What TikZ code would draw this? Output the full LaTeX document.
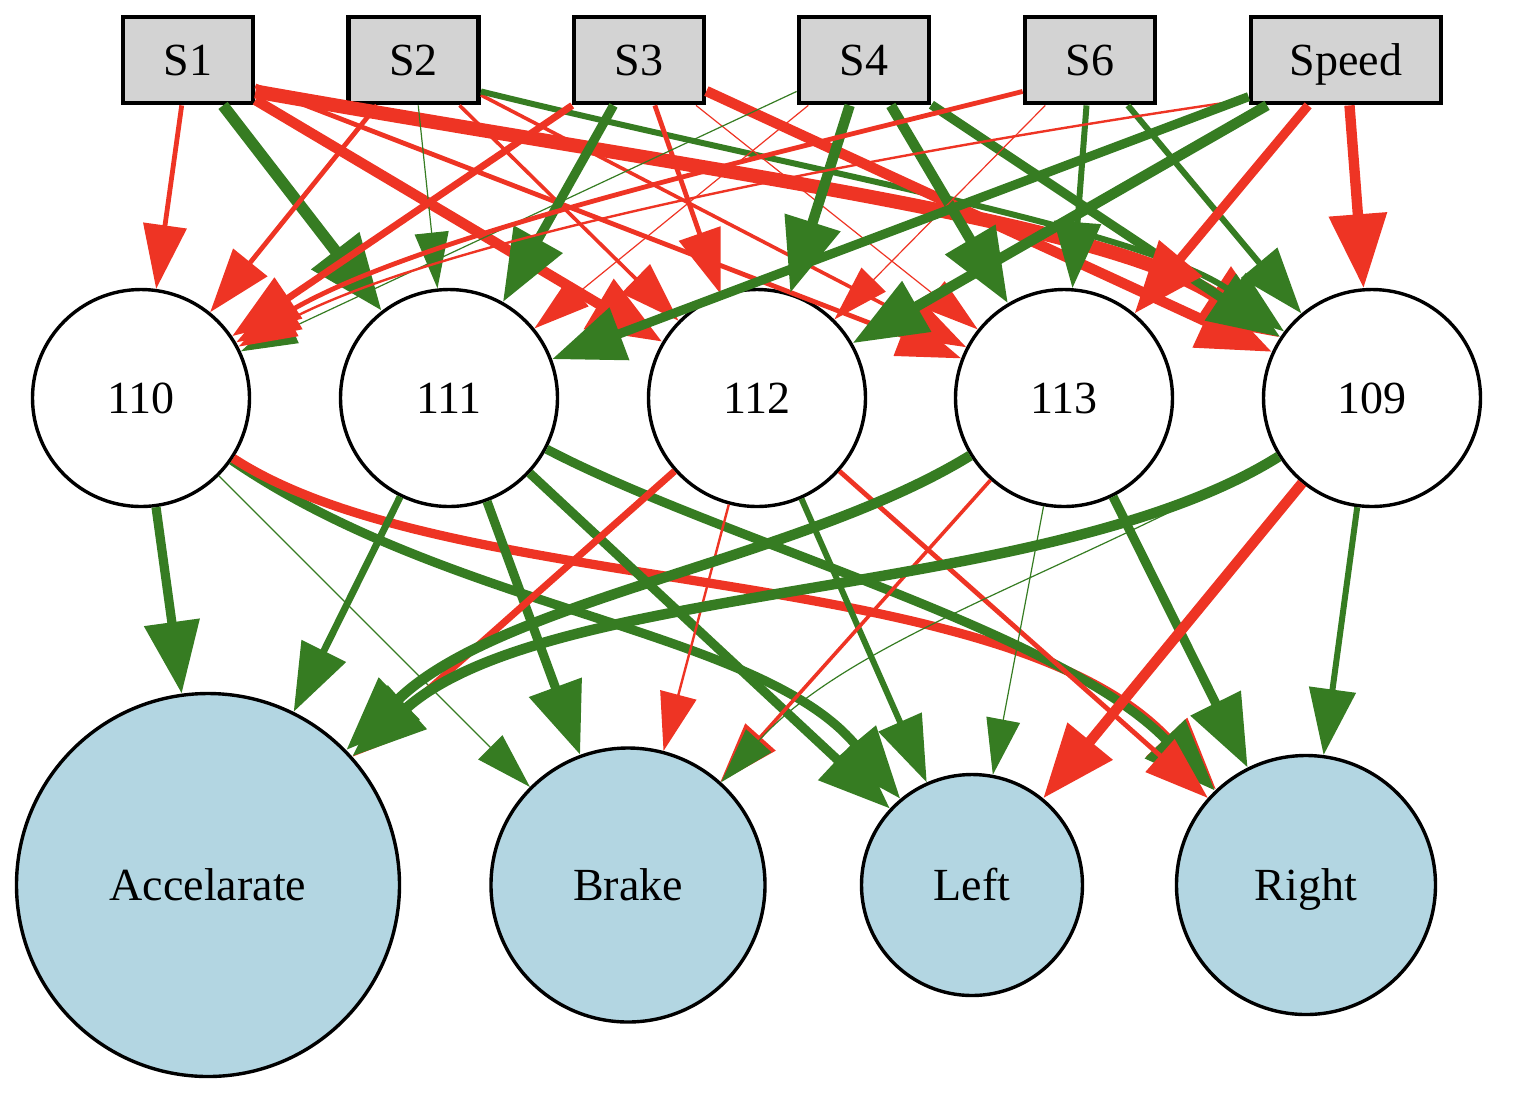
\documentclass[tikz,border=0pt]{standalone}
\usepackage{fontspec}
\setmainfont{Liberation Serif}
\usetikzlibrary{arrows.meta}
\definecolor{posc}{RGB}{54,124,34}
\definecolor{negc}{RGB}{238,52,36}
\definecolor{inbox}{RGB}{211,211,211}
\definecolor{outfill}{RGB}{179,214,226}

\begin{document}
\begin{tikzpicture}[x=0.5pt,y=-0.5pt,
  lbl/.style={font=\fontsize{23}{27}\selectfont, text height=15pt, text depth=0pt},
  inp/.style={lbl, draw=black, line width=2.4pt, fill=inbox, rectangle,
    minimum height=43pt, inner sep=0pt},
  hid/.style={lbl, draw=black, line width=1.7pt, fill=white, circle,
    minimum size=108.5pt, inner sep=0pt},
  outn/.style={lbl, draw=black, line width=1.7pt, fill=outfill, circle,
    inner sep=0pt},
  plus/.style={color=posc},
  minus/.style={color=negc},
  % edge weights: line width and matching arrow head
  e1/.style={line width=0.6pt, -{Triangle[length=28pt,width=17pt]}},
  e2/.style={line width=1.2pt, -{Triangle[length=29pt,width=18.5pt]}},
  e3/.style={line width=1.8pt, -{Triangle[length=30pt,width=20pt]}},
  e4/.style={line width=2.4pt, -{Triangle[length=32pt,width=21.5pt]}},
  e5/.style={line width=3pt,   -{Triangle[length=33pt,width=23pt]}},
  e6/.style={line width=3.5pt, -{Triangle[length=34pt,width=24pt]}},
  e8/.style={line width=4.6pt, -{Triangle[length=36pt,width=27pt]}},
  e9/.style={line width=5.2pt, -{Triangle[length=37pt,width=28pt]}},
  e10/.style={line width=5.8pt, -{Triangle[length=38pt,width=29pt]}},
  e12/.style={line width=7pt,  -{Triangle[length=40pt,width=31pt]}},
]
\useasboundingbox (0,0) rectangle (1516,1100);

% input layer
\node[inp, minimum width=65pt] (S1) at (188,60) {S1};
\node[inp, minimum width=65pt] (S2) at (413.5,60) {S2};
\node[inp, minimum width=65pt] (S3) at (639,60) {S3};
\node[inp, minimum width=65pt] (S4) at (864,60) {S4};
\node[inp, minimum width=65pt] (S6) at (1090,60) {S6};
\node[inp, minimum width=95pt] (Speed) at (1346,60) {Speed};

% hidden layer
\node[hid] (h110) at (141,398) {110};
\node[hid] (h111) at (449,398) {111};
\node[hid] (h112) at (757,398) {112};
\node[hid] (h113) at (1064,398) {113};
\node[hid] (h109) at (1372,398) {109};

% output layer
\node[outn, minimum size=191.5pt] (acc) at (208,885) {Accelarate};
\node[outn, minimum size=137pt] (brake) at (628,885) {Brake};
\node[outn, minimum size=110.5pt] (left) at (972,885) {Left};
\node[outn, minimum size=129.5pt] (right) at (1306,885) {Right};

% inputs to hidden
\draw[minus,e4]  (S1) -- (h110);
\draw[plus,e10]  (S1) -- (h111);
\draw[minus,e9]  (S1) -- (h112);
\draw[minus,e4]  (S1) -- (h113);
\draw[minus,e12] (S1.-25) .. controls (700,170) and (1100,220) .. (h109);

\draw[minus,e4]  (S2) -- (h110);
\draw[plus,e1]   (S2) -- (h111);
\draw[minus,e3]  (S2) -- (h112);
\draw[minus,e3]  (S2) -- (h113);
\draw[plus,e5]   (S2.-25) .. controls (800,170) and (1150,230) .. (h109);

\draw[minus,e6]  (S3) -- (h110);
\draw[plus,e8]   (S3) -- (h111);
\draw[minus,e4]  (S3) -- (h112);
\draw[minus,e1]  (S3) -- (h113);
\draw[minus,e9]  (S3) -- (h109);

\draw[plus,e1]   (S4) -- (h110);
\draw[minus,e1]  (S4) -- (h111);
\draw[plus,e9]   (S4) -- (h112);
\draw[plus,e9]   (S4) -- (h113);
\draw[plus,e8]   (S4) -- (h109);

\draw[minus,e4]  (S6.205) .. controls (750,160) and (420,235) .. (h110);
\draw[minus,e1]  (S6) -- (h112);
\draw[plus,e5]   (S6) -- (h113);
\draw[plus,e5]   (S6) -- (h109);

\draw[minus,e2]  (Speed.202) .. controls (900,150) and (450,235) .. (h110);
\draw[plus,e8]   (Speed) -- (h111);
\draw[plus,e9]   (Speed) -- (h112);
\draw[minus,e8]  (Speed) -- (h113);
\draw[minus,e9]  (Speed) -- (h109);

% hidden to outputs
\draw[plus,e8]   (h110) -- (acc);
\draw[plus,e1]   (h110) -- (brake);
\draw[plus,e8]   (h110) .. controls (450,610) and (760,630) .. (left);
\draw[minus,e8]  (h110) .. controls (450,600) and (1000,560) .. (right);

\draw[plus,e6]   (h111) -- (acc);
\draw[plus,e8]   (h111) -- (brake);
\draw[plus,e8]   (h111) -- (left);
\draw[plus,e8]   (h111) .. controls (720,540) and (1060,630) .. (right);

\draw[minus,e6]  (h112) -- (acc);
\draw[minus,e2]  (h112) -- (brake);
\draw[plus,e5]   (h112) -- (left);
\draw[minus,e4]  (h112) -- (right);

\draw[plus,e9]   (h113) .. controls (800,560) and (500,600) .. (acc);
\draw[minus,e3]  (h113) -- (brake);
\draw[plus,e1]   (h113) -- (left);
\draw[plus,e8]   (h113) -- (right);

\draw[plus,e1]   (h109.212) .. controls (1050,580) and (850,640) .. (brake);
\draw[plus,e9]   (h109) .. controls (1050,600) and (550,580) .. (acc);
\draw[minus,e9]  (h109) -- (left);
\draw[plus,e5]   (h109) -- (right);
\end{tikzpicture}
\end{document}
